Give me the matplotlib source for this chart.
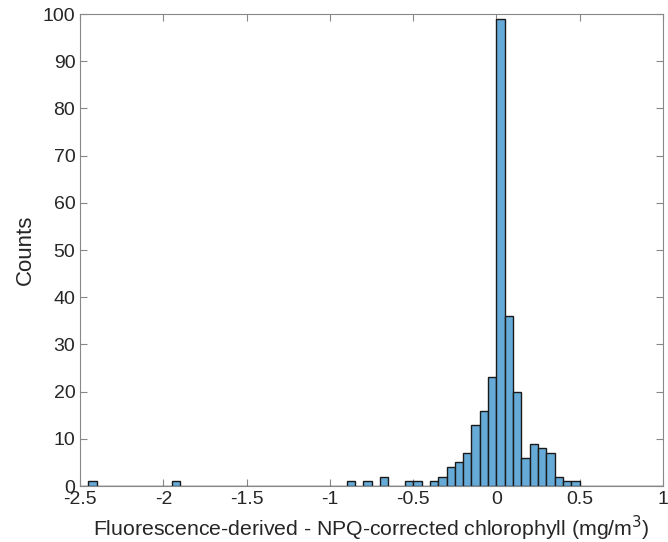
import numpy as np
import matplotlib
matplotlib.use('Agg')
import matplotlib.pyplot as plt

# Histogram bins (width 0.05) and counts
bin_left = [-2.45, -1.95, -0.90, -0.80, -0.70,
            -0.55, -0.50, -0.40, -0.35, -0.30, -0.25, -0.20, -0.15, -0.10, -0.05,
            0.00, 0.05, 0.10, 0.15, 0.20, 0.25, 0.30, 0.35, 0.40, 0.45]
counts = [1, 1, 1, 1, 2,
          1, 1, 1, 2, 4, 5, 7, 13, 16, 23,
          99, 36, 20, 6, 9, 8, 7, 2, 1, 1]
bin_width = 0.05

x_ticks = [-2.5, -2, -1.5, -1, -0.5, 0, 0.5, 1]
x_tick_labels = ['-2.5', '-2', '-1.5', '-1', '-0.5', '0', '0.5', '1']
y_ticks = list(range(0, 101, 10))

plt.rcParams['font.family'] = ['Liberation Sans', 'DejaVu Sans']

fig = plt.figure(figsize=(6.68, 5.42), dpi=100)
ax = fig.add_axes([0.12, 0.1033, 0.8725, 0.8707])

# full range of edges so empty bins draw as a flat outline on the baseline
edges = np.round(np.arange(-2.5, 1.0001, bin_width), 4)
heights = np.zeros(len(edges) - 1)
for left, c in zip(bin_left, counts):
    idx = int(round((left - edges[0]) / bin_width))
    heights[idx] = c

ax.bar(edges[:-1], heights, width=bin_width, align='edge',
       color='#66aad7', edgecolor='#1a1a1a', linewidth=1.0, zorder=2)

ax.set_xlim(-2.5, 1)
ax.set_ylim(0, 100)
ax.set_xticks(x_ticks)
ax.set_xticklabels(x_tick_labels)
ax.set_yticks(y_ticks)

ax.tick_params(direction='in', length=5, width=0.8, color='#888888',
               labelcolor='#262626', labelsize=14, top=True, right=True)
for s in ax.spines.values():
    s.set_color('#888888')
    s.set_linewidth(0.8)

ax.set_xlabel('Fluorescence-derived - NPQ-corrected chlorophyll (mg/m$^3$)',
              fontsize=15.3, color='#262626', labelpad=4)
ax.set_ylabel('Counts', fontsize=16, color='#262626', labelpad=5)

plt.savefig('out.png', dpi=100)
